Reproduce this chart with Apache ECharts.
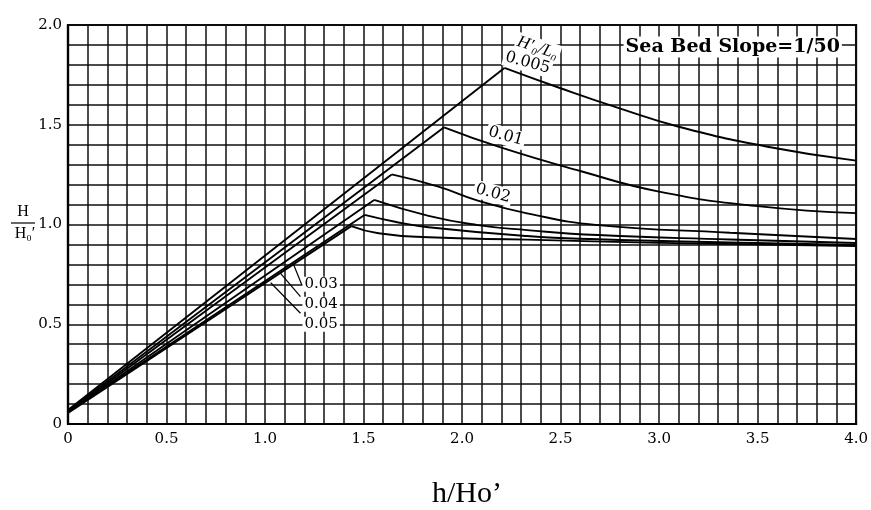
<!DOCTYPE html>
<html><head><meta charset="utf-8">
<script src="https://cdn.jsdelivr.net/npm/echarts@6/dist/echarts.min.js"></script>
<style>html,body{margin:0;padding:0;background:#fff}#c{width:871px;height:510px}</style>
</head><body><div id="c"></div>
<script>
// ---- data ----
const steepnessLabels = ['0.005', '0.01', '0.02', '0.03', '0.04', '0.05'];
const xTickLabels = ['0', '0.5', '1.0', '1.5', '2.0', '2.5', '3.0', '3.5', '4.0'];
const yTickLabels = ['0', '0.5', '1.0', '1.5', '2.0'];

const rise0005 = [[0, 0.07], [2.215, 1.785]];
const fall0005 = [[2.215, 1.785], [2.5, 1.683], [2.8, 1.582], [3.1, 1.49], [3.55, 1.39], [4.0, 1.32]];
const rise001 = [[0, 0.065], [1.909, 1.487]];
const fall001 = [[1.909, 1.487], [2.2, 1.385], [2.6, 1.268], [3.0, 1.165], [3.5, 1.092], [4.0, 1.057]];
const rise002 = [[0, 0.06], [1.643, 1.251]];
const fall002 = [[1.643, 1.251], [1.88, 1.19], [2.08, 1.12], [2.33, 1.056], [2.69, 0.997], [3.36, 0.959], [4.0, 0.927]];
const rise003 = [[0, 0.06], [1.554, 1.123]];
const fall003 = [[1.554, 1.123], [1.83, 1.043], [2.08, 0.997], [2.33, 0.972], [2.69, 0.947], [3.36, 0.925], [4.0, 0.907]];
const rise004 = [[0, 0.06], [1.505, 1.048]];
const fall004 = [[1.505, 1.048], [1.66, 1.014], [1.83, 0.986], [2.33, 0.942], [2.69, 0.926], [3.36, 0.91], [4.0, 0.897]];
const rise005 = [[0, 0.055], [1.438, 0.992]];
const fall005 = [[1.438, 0.992], [1.576, 0.956], [1.83, 0.936], [2.33, 0.924], [3.0, 0.908], [4.0, 0.892]];

// ---- chart ----
const curves = [
  [rise0005, fall0005], [rise001, fall001], [rise002, fall002],
  [rise003, fall003], [rise004, fall004], [rise005, fall005]
];
const INK = '#000';
const serif = '"DejaVu Serif", "Liberation Serif", serif';

const series = [];
curves.forEach((c, i) => {
  const base = {
    type: 'line', symbol: 'none', showSymbol: false, silent: true, animation: false,
    lineStyle: { color: INK, width: 1.9 }, name: steepnessLabels[i]
  };
  series.push(Object.assign({}, base, { data: c[0] }));
  series.push(Object.assign({}, base, { data: c[1], smooth: 0.5 }));
});

// leader arrows for 0.03 / 0.04 / 0.05 (annotation, in data coordinates)
series[series.length - 1].markLine = {
  silent: true, animation: false,
  symbol: ['none', 'arrow'], symbolSize: [0, 8],
  label: { show: false },
  lineStyle: { color: INK, width: 1.2, type: 'solid' },
  data: [
    [{ coord: [1.187, 0.697] }, { coord: [1.146, 0.797] }],
    [{ coord: [1.18, 0.638] }, { coord: [1.079, 0.755] }],
    [{ coord: [1.18, 0.555] }, { coord: [1.029, 0.708] }]
  ]
};

const axisCommon = {
  type: 'value',
  axisLine: { show: true, lineStyle: { color: INK, width: 2.2 } },
  axisTick: { show: false },
  splitLine: { show: true, lineStyle: { color: '#111', width: 1.5 } },
  minorTick: { show: false, splitNumber: 5 },
  minorSplitLine: { show: true, lineStyle: { color: '#111', width: 1.5 } },
  axisLabel: { color: INK, fontFamily: serif, fontSize: 15 }
};

const chart = echarts.init(document.getElementById('c'), null, { renderer: 'canvas' });
chart.setOption({
  animation: false,
  backgroundColor: '#fff',
  grid: { left: 68, right: 11, top: 25, bottom: 86, show: true, borderColor: INK, borderWidth: 2.2, backgroundColor: 'transparent' },
  xAxis: Object.assign({}, axisCommon, {
    min: 0, max: 4, interval: 0.5,
    axisLabel: Object.assign({}, axisCommon.axisLabel, { margin: 8, formatter: v => xTickLabels[Math.round(v / 0.5)] })
  }),
  yAxis: Object.assign({}, axisCommon, {
    min: 0, max: 2, interval: 0.5,
    axisLabel: Object.assign({}, axisCommon.axisLabel, { margin: 6, formatter: v => yTickLabels[Math.round(v / 0.5)] })
  }),
  series: series
});

function P(x, y) { return chart.convertToPixel({ gridIndex: 0 }, [x, y]); }
function label(text, at, rot, font, bg) {
  const p = P(at[0], at[1]);
  return {
    type: 'text', x: p[0], y: p[1], rotation: rot, z: 100,
    style: {
      text: text, font: font, fill: INK, align: 'center', verticalAlign: 'middle',
      backgroundColor: bg ? '#fff' : null, padding: bg ? [1, 2] : 0
    }
  };
}
const lf = '16px ' + serif;
const graphics = [
  label('Sea Bed Slope=1/50', [3.374, 1.89], 0, 'bold 19px ' + serif, true),
  label('H\u2032\u2080/L\u2080', [2.384, 1.885], -0.32, 'italic 17px "Liberation Serif", serif', true),
  label(steepnessLabels[0], [2.333, 1.81], -0.27, lf, true),
  label(steepnessLabels[1], [2.222, 1.442], -0.27, lf, true),
  label(steepnessLabels[2], [2.157, 1.156], -0.27, lf, true)
];
[[3, 0.7], [4, 0.6], [5, 0.5]].forEach(a => {
  const p = P(1.19, a[1]);
  graphics.push({
    type: 'text', x: p[0], y: p[1], z: 100,
    style: { text: steepnessLabels[a[0]], font: '15px ' + serif, fill: INK, align: 'left', verticalAlign: 'middle', backgroundColor: '#fff', padding: [0, 2] }
  });
});
// y-axis title: fraction H / H0'
graphics.push(
  { type: 'text', x: 23, y: 212, style: { text: 'H', font: '16px "Liberation Serif", serif', fill: INK, align: 'center', verticalAlign: 'middle' } },
  { type: 'line', shape: { x1: 11, y1: 223, x2: 35, y2: 223 }, style: { stroke: INK, lineWidth: 1.2 } },
  { type: 'text', x: 25, y: 234, style: { text: 'H\u2080\u2032', font: '16px "Liberation Serif", serif', fill: INK, align: 'center', verticalAlign: 'middle' } },
  // x-axis title
  { type: 'text', x: 467, y: 494, style: { text: 'h/Ho\u2019', font: '30px "Liberation Serif", serif', fill: INK, align: 'center', verticalAlign: 'middle' } }
);
chart.setOption({ graphic: graphics });
</script>
</body></html>
